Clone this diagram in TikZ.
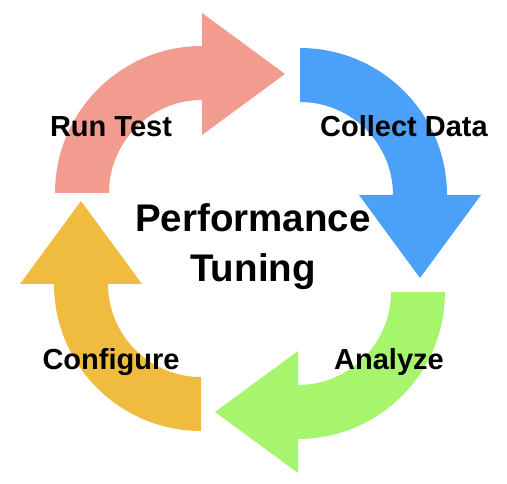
\documentclass[tikz,border=0pt]{standalone}
\usepackage{fontspec}
\setmainfont{Liberation Sans}
\definecolor{cred}{HTML}{F29B8F}
\definecolor{cblue}{HTML}{4AA1F7}
\definecolor{cgreen}{HTML}{A6F56C}
\definecolor{corange}{HTML}{EFBC40}
\tikzset{
  arrowshape/.style={draw=none},
  steplabel/.style={font=\bfseries\fontsize{29}{29}\selectfont, anchor=base, inner sep=0pt},
  titlelabel/.style={font=\bfseries\fontsize{38.5}{38.5}\selectfont, anchor=base, inner sep=0pt}
}
\begin{document}
\begin{tikzpicture}[x=1pt,y=1pt]
\useasboundingbox (0,0) rectangle (507,484);
% red (Run Test) arrow, centre (202,291)
\fill[cred] (55,291) arc[start angle=180,end angle=90,radius=147]
  -- (202,471) -- (285,410) -- (202,349) -- (202,384)
  arc[start angle=90,end angle=180,radius=93] -- cycle;
% blue (Collect Data) arrow, centre (300,289)
\fill[cblue] (300,436) arc[start angle=90,end angle=0,radius=147]
  -- (481,289) -- (420,206) -- (359,289) -- (393,289)
  arc[start angle=0,end angle=90,radius=93] -- cycle;
% green (Analyze) arrow, centre (298,192)
\fill[cgreen] (445,192) arc[start angle=0,end angle=-90,radius=147]
  -- (298,11) -- (215,72) -- (298,133) -- (298,99)
  arc[start angle=-90,end angle=0,radius=93] -- cycle;
% orange (Configure) arrow, centre (201,200)
\fill[corange] (201,53) arc[start angle=270,end angle=180,radius=147]
  -- (20,200) -- (81,283) -- (142,200) -- (108,200)
  arc[start angle=180,end angle=270,radius=93] -- cycle;
% labels
\node[steplabel] (runtest) at (111,347) {Run Test};
\node[steplabel] (collect) at (404,347) {Collect Data};
\node[steplabel] (analyze) at (389,114) {Analyze};
\node[steplabel] (configure) at (111,114) {Configure};
\node[titlelabel] (perf) at (253,252) {Performance};
\node[titlelabel] (tuning) at (253,202) {Tuning};
\end{tikzpicture}
\end{document}
